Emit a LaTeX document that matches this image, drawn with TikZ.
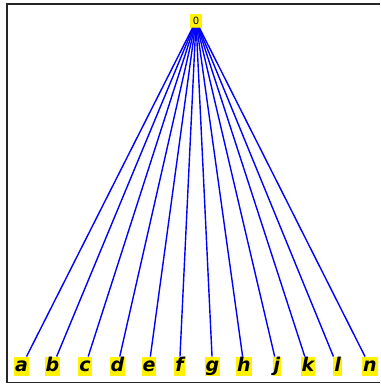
\documentclass[tikz,border=0pt]{standalone}
\usepackage{fontspec}
\newfontfamily\leaffont{DejaVu Sans}
\tikzset{
  leafbox/.style={fill=yellow, inner xsep=1pt, inner ysep=1pt, text height=14pt, text depth=3.5pt, font=\leaffont\bfseries\itshape\fontsize{19}{19}\selectfont},
  rootbox/.style={fill=yellow, inner sep=0pt, minimum width=12.4pt, minimum height=13.4pt, font=\leaffont\fontsize{10}{10}\selectfont},
  edge/.style={draw=blue, line width=1.4pt},
  frameline/.style={draw=black!85, line width=1.8pt}
}
\begin{document}
\begin{tikzpicture}[x=1pt,y=1pt]
\useasboundingbox (0,0) rectangle (380,387);
\coordinate (tl) at (7,383);
\coordinate (bl) at (7,4.5);
\coordinate (tr) at (380,383);
\coordinate (br) at (380,4.5);
\draw[frameline] (tr) -- (tl) -- (bl) -- (br);
\node[rootbox] (r) at (196,366) {0};
\foreach \n/\x in {a/21.5,b/52.5,c/85,d/117.5,e/149,f/179.5,g/212.5,h/244,j/277,k/308,l/337.5,n/370}{
  \node[leafbox] (\n) at (\x,20.5) {\n};
}
\foreach \n in {a,b,c,d,e,f,g,h,j,k,l,n}{
  \draw[edge] (r) -- (\n);
}
\end{tikzpicture}
\end{document}
